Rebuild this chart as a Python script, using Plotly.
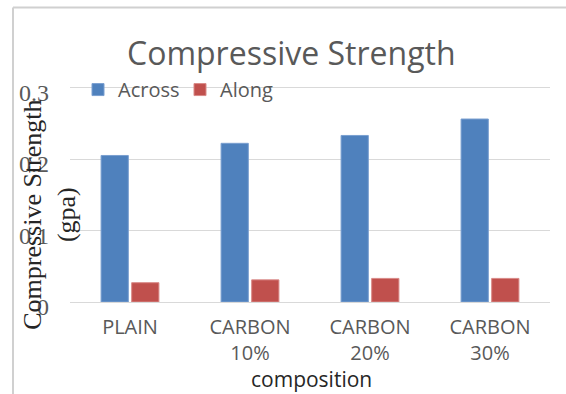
import plotly.graph_objects as go

categories = ["PLAIN", "CARBON<br>10%", "CARBON<br>20%", "CARBON<br>30%"]
across = [0.205, 0.222, 0.233, 0.256]
along = [0.027, 0.031, 0.033, 0.033]
y_ticks = [0, 0.1, 0.2, 0.3]
y_tick_labels = ["0", "0.1", "0.2", "0.3"]

W, H = 566, 394
YMAX = 0.305
B = 92
ph = 214 * YMAX / 0.3
L, R = 70, 16
T = H - B - ph
pw = W - L - R

def px(x):
    return (x - L) / pw

def py(y):
    return (H - B - y) / ph

fig = go.Figure()
fig.add_trace(go.Bar(name="Across", x=categories, y=across,
                     marker=dict(color="#4F81BD", line=dict(color="#7A9FD0", width=1))))
fig.add_trace(go.Bar(name="Along", x=categories, y=along,
                     marker=dict(color="#C0504D", line=dict(color="#D98A88", width=1))))

sans = "Open Sans"
serif = "Liberation Serif"

fig.update_layout(
    width=W, height=H,
    margin=dict(l=L, r=R, t=T, b=B, pad=0, autoexpand=False),
    paper_bgcolor="white", plot_bgcolor="white",
    barmode="group", bargap=0.49, bargroupgap=0.11,
    showlegend=True,
    legend=dict(orientation="h", x=px(78), y=py(90), xanchor="left", yanchor="middle",
                font=dict(family=sans, size=20, color="#595959"),
                bgcolor="rgba(0,0,0,0)", itemclick=False, traceorder="normal",
                tracegroupgap=0, entrywidth=57, entrywidthmode="pixels"),
    xaxis=dict(showgrid=False, showline=False, zeroline=False, ticks="",
               tickfont=dict(family=sans, size=20, color="#595959"),
               ticklabelstandoff=11, fixedrange=True, automargin=False),
    yaxis=dict(range=[0, YMAX], tickvals=y_ticks, ticktext=y_tick_labels,
               showgrid=True, gridcolor="#D9D9D9", gridwidth=1,
               zeroline=True, zerolinecolor="#D9D9D9", zerolinewidth=1,
               showline=False, ticks="",
               tickfont=dict(family=serif, size=24, color="#595959"),
               ticklabelstandoff=20, ticklabelshift=5, fixedrange=True, automargin=False),
    annotations=[
        dict(text="Compressive Strength", xref="paper", yref="paper",
             x=px(291), y=py(53), xanchor="center", yanchor="middle", showarrow=False,
             font=dict(family=sans, size=32, color="#595959")),
        dict(text="composition", xref="paper", yref="paper",
             x=px(311), y=py(379), xanchor="center", yanchor="middle", showarrow=False,
             font=dict(family=sans, size=21, color="#262626")),
        dict(text="Compressive Strength<br>(gpa)", xref="paper", yref="paper",
             x=px(50), y=py(215), xanchor="center", yanchor="middle", showarrow=False,
             textangle=-90, font=dict(family=serif, size=26, color="#262626")),
    ],
    shapes=[
        dict(type="line", xref="paper", yref="paper", x0=px(13), x1=px(566), y0=py(8), y1=py(8),
             line=dict(color="#D0D0D0", width=2)),
        dict(type="line", xref="paper", yref="paper", x0=px(13), x1=px(13), y0=py(8), y1=py(394),
             line=dict(color="#D0D0D0", width=2)),
    ],
)

fig.write_html("out.html", config={"displayModeBar": False},
               post_script="document.body.style.margin='0';document.body.style.overflow='hidden';")
